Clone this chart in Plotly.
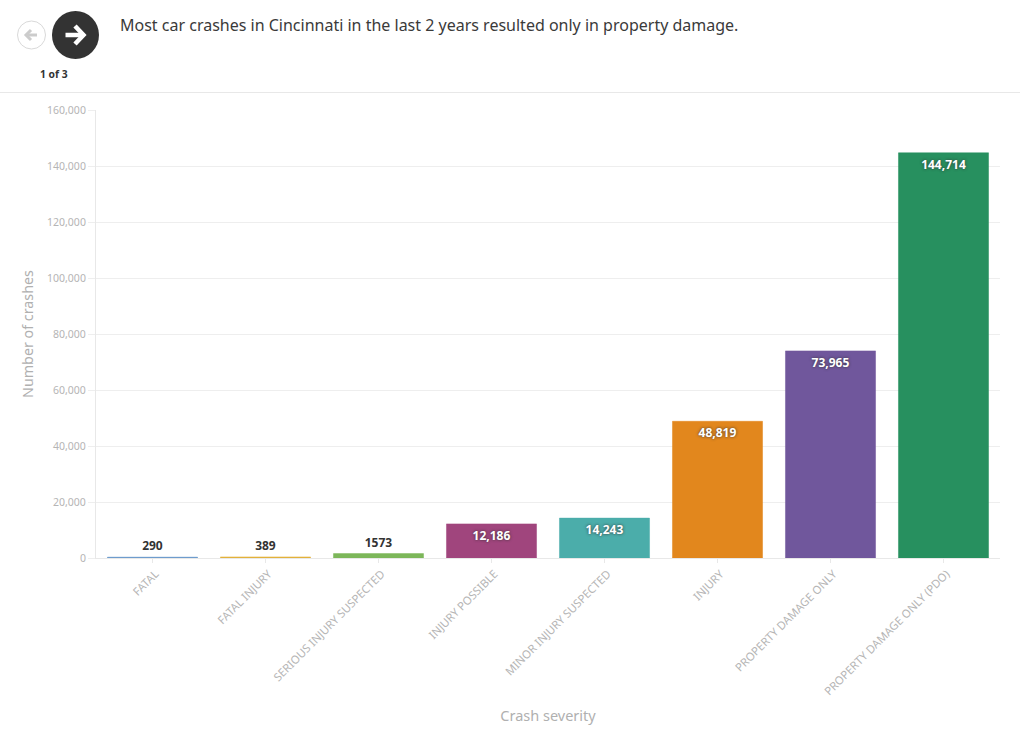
import plotly.graph_objects as go

categories = ["FATAL", "FATAL INJURY", "SERIOUS INJURY SUSPECTED", "INJURY POSSIBLE",
              "MINOR INJURY SUSPECTED", "INJURY", "PROPERTY DAMAGE ONLY", "PROPERTY DAMAGE ONLY (PDO)"]
crashes = [290, 389, 1573, 12186, 14243, 48819, 73965, 144714]
value_labels = ["290", "389", "1573", "12,186", "14,243", "48,819", "73,965", "144,714"]
bar_colors = ["#5b8fc7", "#e3b23c", "#7cb75a", "#a0457d", "#4badaa", "#e2871d", "#70579c", "#27905f"]
label_positions = ["outside", "outside", "outside", "inside", "inside", "inside", "inside", "inside"]
label_colors = ["#333333", "#333333", "#333333", "#ffffff", "#ffffff", "#ffffff", "#ffffff", "#ffffff"]
label_shadows = ["none", "none", "none", "0 0 3px #333333", "0 0 3px #333333", "0 0 3px #333333",
                 "0 0 3px #333333", "0 0 3px #333333"]
y_ticks = [0, 20000, 40000, 60000, 80000, 100000, 120000, 140000, 160000]

FONT = "Noto Sans"
W, H = 1020, 743
L, R, T, B = 96, 1000, 110, 558


def px(x):
    return (x - L) / (R - L)


def py(y):
    return (B - y) / (B - T)


fig = go.Figure(go.Bar(
    x=categories, y=crashes, marker=dict(color=bar_colors, line=dict(width=0.5, color=bar_colors)),
    text=value_labels, textposition=label_positions, insidetextanchor="end",
    textangle=0, cliponaxis=False, width=0.797,
    textfont=dict(family=FONT, size=12, color=label_colors, weight=700, shadow=label_shadows),
    hoverinfo="x+y",
))

shapes = [
    dict(type="line", xref="paper", yref="paper", x0=px(0), x1=px(W), y0=py(92.5), y1=py(92.5),
         line=dict(color="#e8e8e8", width=1)),
    dict(type="circle", xref="paper", yref="paper", x0=px(17.5), x1=px(45.5), y0=py(21), y1=py(49),
         line=dict(color="#d9d9d9", width=1), fillcolor="#ffffff"),
    dict(type="circle", xref="paper", yref="paper", x0=px(52), x1=px(99), y0=py(11), y1=py(59),
         line=dict(width=0), fillcolor="#333333"),
]
# arrow icons (interface decoration of the page header)
for pts, col, w in [([(65.5, 35), (83, 35)], "#ffffff", 4.5),
                    ([(75, 26), (83.5, 35), (75, 44)], "#ffffff", 4.5),
                    ([(37, 35), (26, 35)], "#cccccc", 3),
                    ([(31, 30), (26, 35), (31, 40)], "#cccccc", 3)]:
    d = "M" + " L".join(f"{px(a):.5f},{py(b):.5f}" for a, b in pts)
    shapes.append(dict(type="path", xref="paper", yref="paper", path=d, line=dict(color=col, width=w)))

annotations = [
    dict(text="Most car crashes in Cincinnati in the last 2 years resulted only in property damage.",
         xref="paper", yref="paper", x=px(119), y=py(25), xanchor="left", yanchor="middle",
         showarrow=False, borderpad=0, font=dict(family=FONT, size=16, color="#3a3a3a")),
    dict(text="<b>1 of 3</b>", xref="paper", yref="paper", x=px(53.5), y=py(74), xanchor="center",
         yanchor="middle", showarrow=False, font=dict(family=FONT, size=10.3, color="#333333")),
]

fig.update_layout(
    width=W, height=H, margin=dict(l=L, r=W - R, t=T, b=H - B, pad=0, autoexpand=False),
    paper_bgcolor="#ffffff", plot_bgcolor="#ffffff", showlegend=False,
    font=dict(family=FONT), shapes=shapes, annotations=annotations,
    xaxis=dict(type="category", tickangle=-45, ticks="outside", ticklen=4, tickcolor="#e8e8e8",
               tickfont=dict(family=FONT, size=11.3, color="#b5b5b5"), showgrid=False,
               ticklabelshift=3,
               showline=True, linecolor="#e8e8e8", linewidth=1,
               title=dict(text="Crash severity", font=dict(family=FONT, size=14.5, color="#b0b0b0"), standoff=13)),
    yaxis=dict(range=[0, 160000], tickvals=y_ticks, tickformat=",", ticks="outside", ticklen=7,
               tickcolor="#eeeeee", gridcolor="#eeeeee", gridwidth=1, zeroline=False,
               tickfont=dict(family=FONT, size=10.5, color="#b5b5b5"),
               showline=True, linecolor="#e8e8e8", linewidth=1,
               title=dict(text="Number of crashes", font=dict(family=FONT, size=14.3, color="#b0b0b0"), standoff=10)),
)

fig.write_html("out.html", post_script="document.body.style.margin='0';", config=dict(displayModeBar=False))
